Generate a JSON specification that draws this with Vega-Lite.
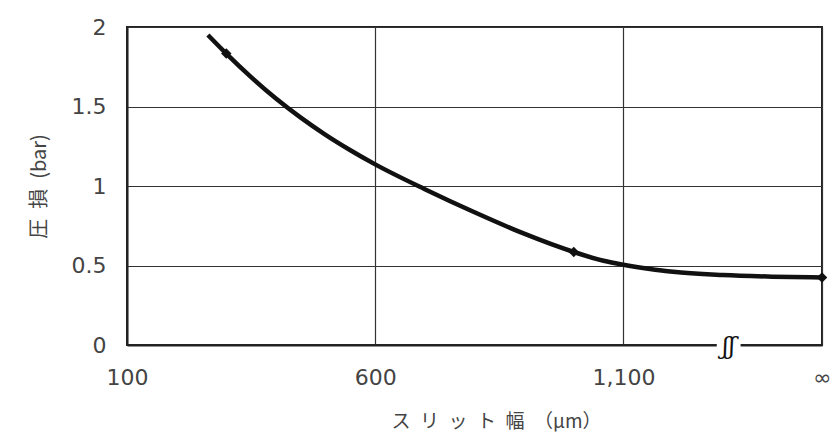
{
  "$schema": "https://vega.github.io/schema/vega-lite/v6.json",
  "autosize": "none",
  "width": 695,
  "height": 318,
  "padding": {"left": 127, "top": 27, "right": 9, "bottom": 88},
  "background": "white",
  "config": {
    "view": {"stroke": "#222", "strokeWidth": 2},
    "font": "Noto Sans CJK JP"
  },
  "datasets": {
    "curve": [
      {"x": 263, "y": 1.95},
      {"x": 300, "y": 1.833},
      {"x": 350, "y": 1.685},
      {"x": 400, "y": 1.55},
      {"x": 450, "y": 1.43},
      {"x": 500, "y": 1.322},
      {"x": 550, "y": 1.225},
      {"x": 600, "y": 1.136},
      {"x": 700, "y": 0.98},
      {"x": 800, "y": 0.835},
      {"x": 900, "y": 0.7},
      {"x": 1000, "y": 0.585},
      {"x": 1060, "y": 0.53},
      {"x": 1100, "y": 0.505},
      {"x": 1150, "y": 0.48},
      {"x": 1200, "y": 0.46},
      {"x": 1300, "y": 0.44},
      {"x": 1400, "y": 0.43},
      {"x": 1500, "y": 0.425}
    ],
    "markers": [
      {"x": 300, "y": 1.833},
      {"x": 1000, "y": 0.585},
      {"x": 1500, "y": 0.425}
    ],
    "brk": [
      {"x": 1288, "x2": 1336, "y": 0, "label": "ʃʃ"}
    ]
  },
  "layer": [
    {
      "data": {"name": "curve"},
      "mark": {"type": "line", "color": "#111", "strokeWidth": 4.5, "interpolate": "monotone"},
      "encoding": {
        "x": {
          "field": "x", "type": "quantitative",
          "scale": {"domain": [100, 1500], "nice": false, "zero": false},
          "axis": {
            "values": [100, 600, 1100, 1500],
            "labelExpr": "datum.value == 1500 ? '∞' : format(datum.value, ',')",
            "labelFlush": false,
            "title": "ス\u2002リ\u2002ッ\u2002ト\u2002幅\u2002（μm）",
            "titleFontSize": 19, "titleFontWeight": "normal", "titleColor": "#444",
            "titleX": 369, "titleAnchor": "start", "titleAlign": "center",
            "titlePadding": 24,
            "labelFontSize": 22, "labelColor": "#444", "labelPadding": 22,
            "labelFont": "DejaVu Sans",
            "ticks": false, "domainColor": "#222", "domainWidth": 2,
            "grid": true, "gridColor": "#333", "gridWidth": 1.2, "gridOpacity": 1
          }
        },
        "y": {
          "field": "y", "type": "quantitative",
          "scale": {"domain": [0, 2], "nice": false},
          "axis": {
            "values": [0, 0.5, 1, 1.5, 2],
            "labelExpr": "format(datum.value, '~g')",
            "title": "圧\u2002損\u2002(bar)",
            "titleFontSize": 20, "titleFontWeight": "normal", "titleColor": "#444",
            "titlePadding": 22,
            "labelFontSize": 22, "labelColor": "#444", "labelPadding": 21,
            "labelFont": "DejaVu Sans",
            "ticks": false, "domainColor": "#222", "domainWidth": 2,
            "grid": true, "gridColor": "#333", "gridWidth": 1.2, "gridOpacity": 1
          }
        }
      }
    },
    {
      "data": {"name": "markers"},
      "mark": {"type": "point", "shape": "diamond", "filled": true, "color": "#111", "size": 110, "opacity": 1},
      "encoding": {
        "x": {"field": "x", "type": "quantitative"},
        "y": {"field": "y", "type": "quantitative"}
      }
    },
    {
      "data": {"name": "brk"},
      "mark": {"type": "rule", "color": "white", "strokeWidth": 6},
      "encoding": {
        "x": {"field": "x", "type": "quantitative"},
        "x2": {"field": "x2"},
        "y": {"field": "y", "type": "quantitative"}
      }
    },
    {
      "data": {"name": "brk"},
      "mark": {"type": "text", "font": "DejaVu Serif", "fontSize": 24, "fontStyle": "italic", "color": "#111", "dy": 2},
      "encoding": {
        "x": {"datum": 1312, "type": "quantitative"},
        "y": {"field": "y", "type": "quantitative"},
        "text": {"field": "label"}
      }
    }
  ]
}
